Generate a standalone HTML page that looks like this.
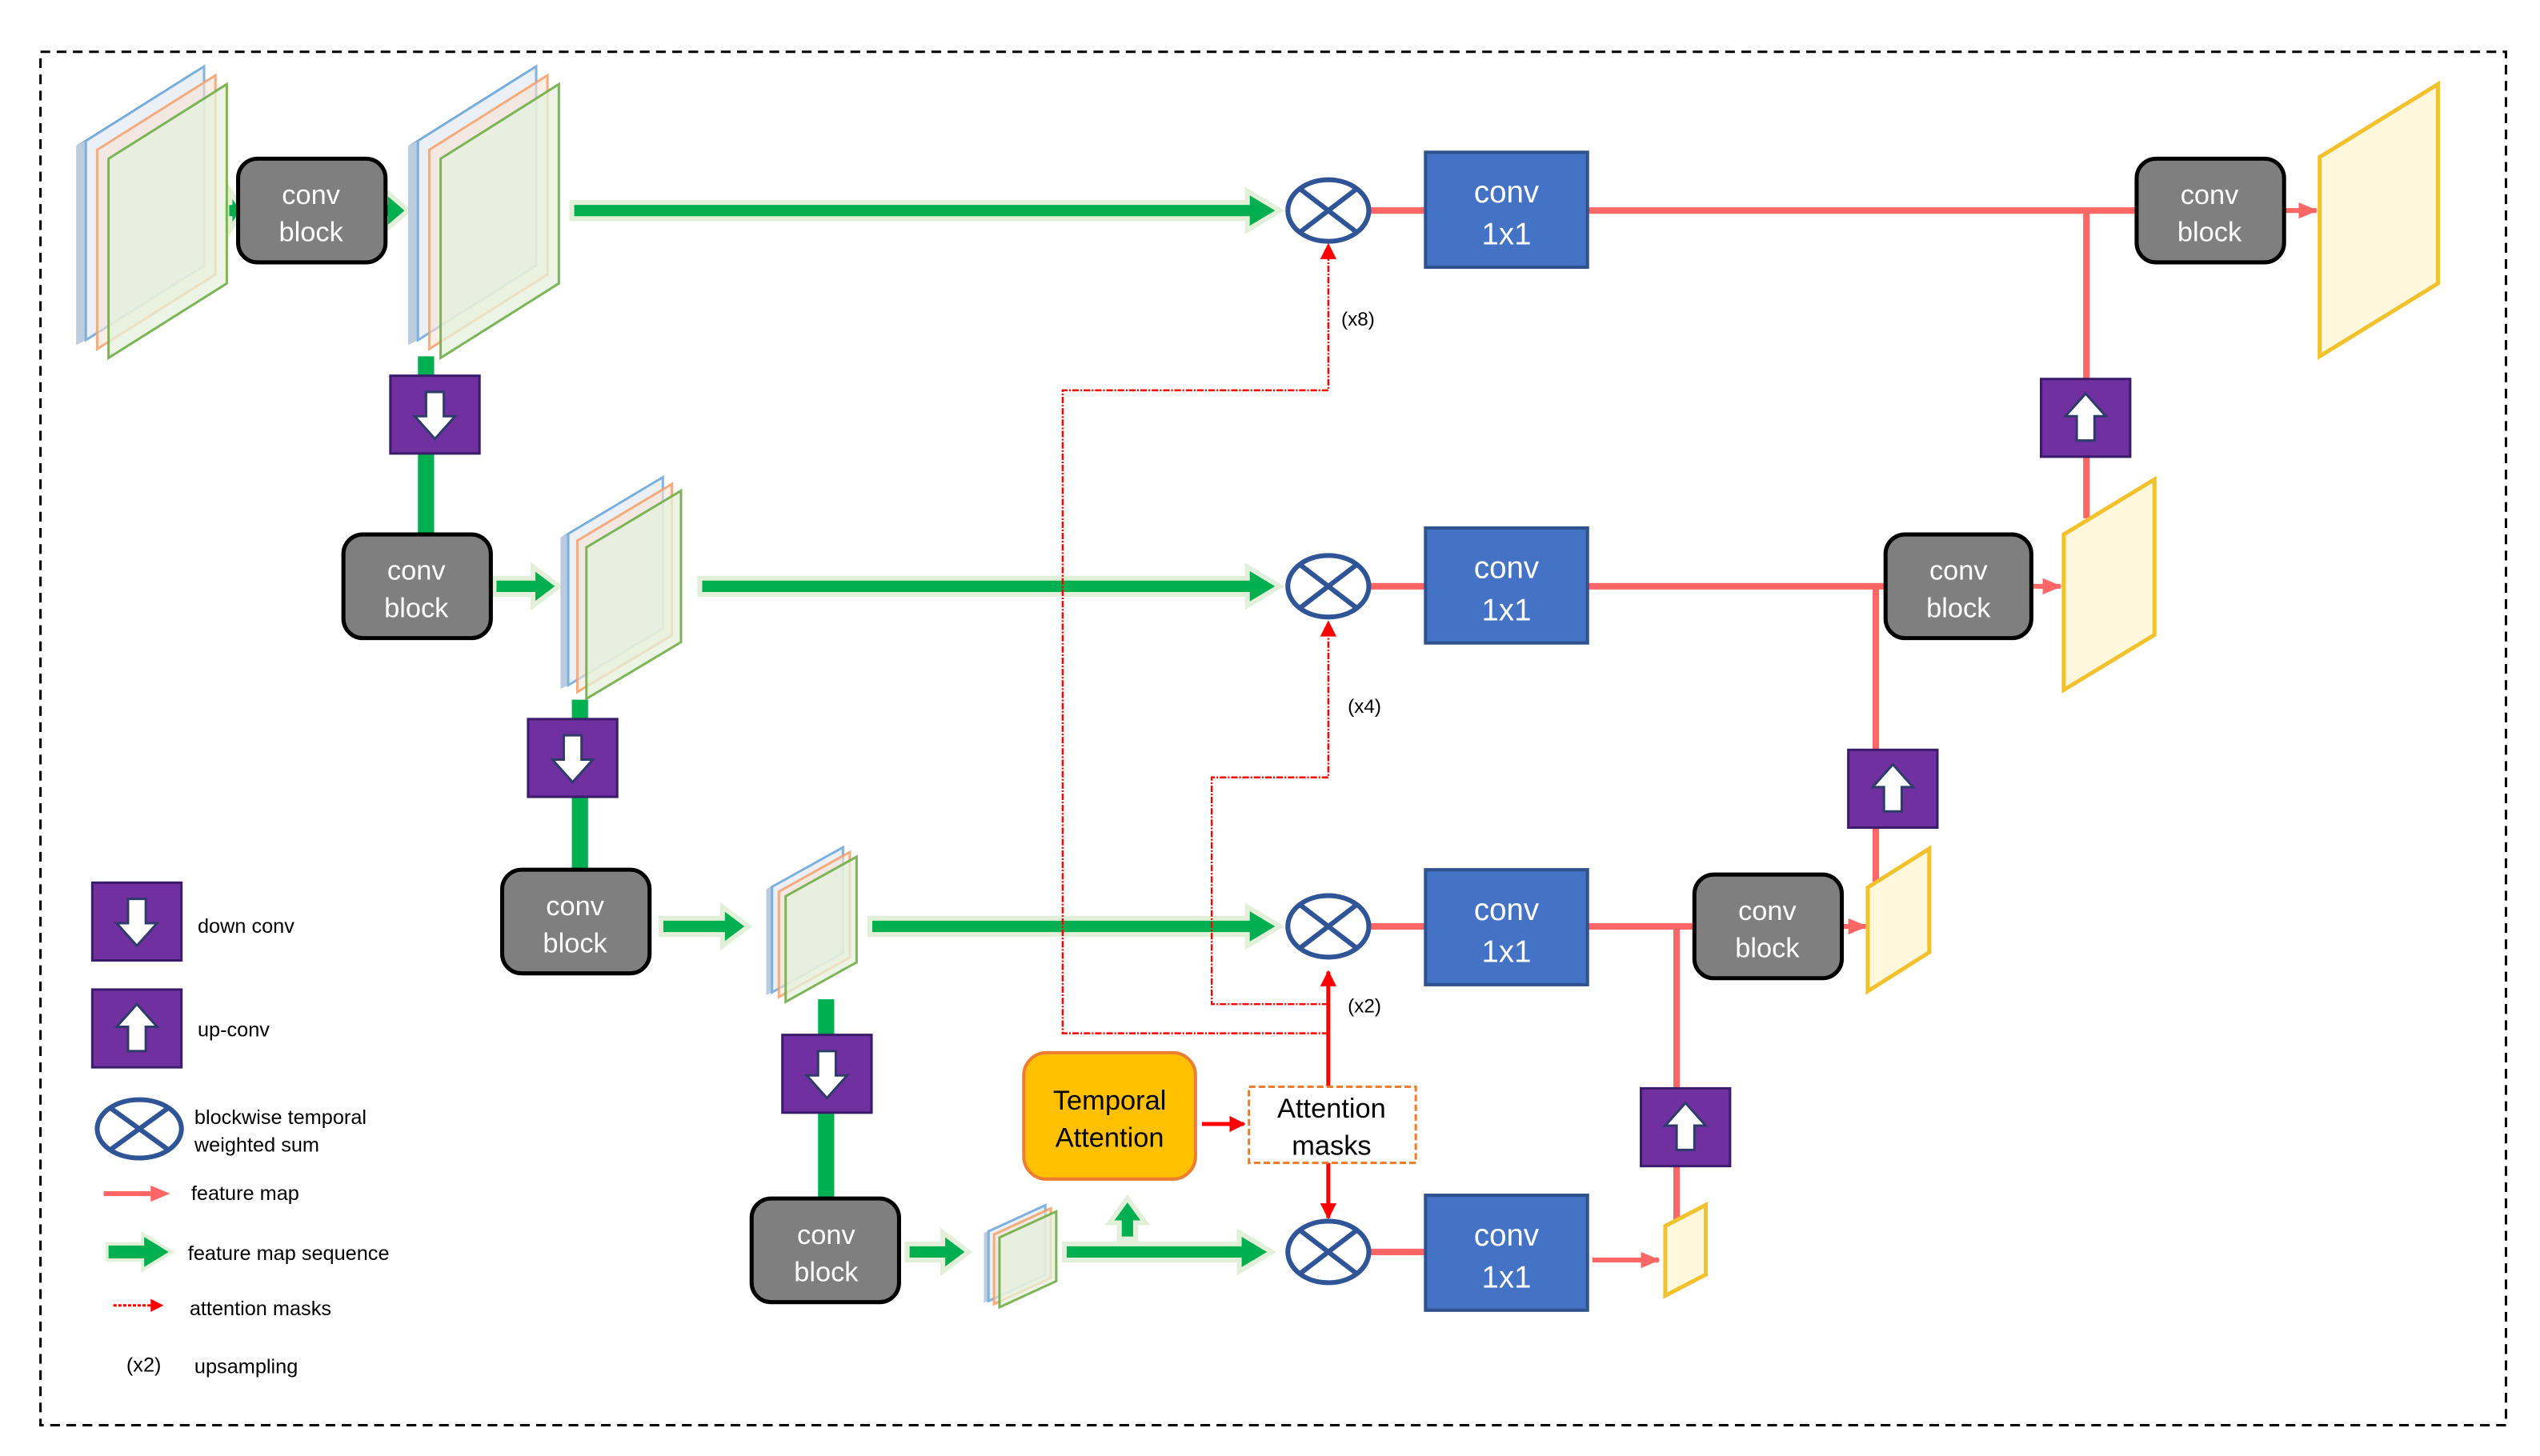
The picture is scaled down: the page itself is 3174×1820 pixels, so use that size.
<!DOCTYPE html>
<html><head><meta charset="utf-8"><style>
html,body{margin:0;padding:0;background:#fff;}
svg{display:block;}
text{font-family:"Liberation Sans",sans-serif;}
</style></head><body>
<svg width="3174" height="1820" viewBox="0 0 1568 899" preserveAspectRatio="none" xmlns="http://www.w3.org/2000/svg">
<defs>
<marker id="rh" markerWidth="12" markerHeight="10" refX="11" refY="5" orient="auto" markerUnits="userSpaceOnUse"><path d="M0,0L12,5L0,10z" fill="#FF6666"/></marker>
<marker id="ah" markerWidth="10" markerHeight="10" refX="9" refY="5" orient="auto" markerUnits="userSpaceOnUse"><path d="M0,0L10,5L0,10z" fill="#FF0000"/></marker>
<g id="dn"><rect x="0" y="0" width="55" height="48" fill="#7030A0" stroke="#3B1C6B" stroke-width="1.5"/><path d="M22,10h11v15h7l-12.5,14l-12.5,-14h7z" fill="#fff" stroke="#2F3B6B" stroke-width="1.5"/></g>
<g id="up"><rect x="0" y="0" width="55" height="48" fill="#7030A0" stroke="#3B1C6B" stroke-width="1.5"/><path d="M22,38h11v-15h7l-12.5,-14l-12.5,14h7z" fill="#fff" stroke="#2F3B6B" stroke-width="1.5"/></g>
<g id="ot"><ellipse cx="0" cy="0" rx="25" ry="19" fill="#fff" stroke="#2F5597" stroke-width="3"/><path d="M-17,-13L17,13M17,-13L-17,13" stroke="#2F5597" stroke-width="3"/></g>
<g id="stk">
<polygon points="-20,38 -14,35 -14,158 -20,161" fill="#B4C7DC" fill-opacity="0.9"/>
<polygon points="-20,38 53,-8 59,-11 -14,35" fill="#5B8DBE" fill-opacity="0.9"/>
<polygon points="-14,35 59,-11 59,112 -14,158" fill="#DCE6F0" fill-opacity="0.6" stroke="#6FA8DC" stroke-opacity="0.85" stroke-width="3" vector-effect="non-scaling-stroke"/>
<polygon points="-7,40.5 66,-5.5 66,117.5 -7,163.5" fill="#F7E3D3" fill-opacity="0.6" stroke="#F4A06A" stroke-opacity="0.85" stroke-width="3" vector-effect="non-scaling-stroke"/>
<polygon points="0,46 73,0 73,123 0,169" fill="#E6F1DC" fill-opacity="0.75" stroke="#70AD47" stroke-opacity="0.9" stroke-width="3" vector-effect="non-scaling-stroke"/>
</g>
</defs>
<rect x="25" y="32" width="1522" height="848" fill="none" stroke="#000" stroke-width="1.5" stroke-dasharray="6,4"/>

<g fill="#00B050">
<rect x="258" y="220" width="10" height="110"/>
<rect x="353" y="432" width="10" height="105"/>
<rect x="505" y="617" width="10" height="123"/>
</g>
<g fill="#00B050" stroke="#E2F0D9" stroke-width="3">
<polygon points="140,125 142,125 142,118 150,130 142,142 142,135 140,135"/>
<polygon points="236,125 238,125 238,118 252,130 238,142 238,135 236,135"/>
<polygon points="353,125 770,125 770,118 790,130 770,142 770,135 353,135"/>
<polygon points="432,357 770,357 770,350 790,362 770,374 770,367 432,367"/>
<polygon points="537,567 770,567 770,560 790,572 770,584 770,577 537,577"/>
<polygon points="657,768 765,768 765,761 785,773 765,785 765,778 657,778"/>
<polygon points="305,357 329,357 329,350 345,362 329,374 329,367 305,367"/>
<polygon points="408,567 446,567 446,560 462,572 446,584 446,577 408,577"/>
<polygon points="560,768 582,768 582,761 598,773 582,785 582,778 560,778"/>
<polygon points="691,765 691,755 685,755 696,740 707,755 701,755 701,765"/>
</g>

<use href="#stk" transform="translate(67,52) scale(1.0,1)"/>
<use href="#stk" transform="translate(272,52) scale(1.0,1)"/>
<use href="#stk" transform="translate(362,303) scale(0.8,0.76)"/>
<use href="#stk" transform="translate(485,529) scale(0.6,0.53)"/>
<use href="#stk" transform="translate(617,748) scale(0.48,0.35)"/>

<g fill="none" stroke="#FF0000" stroke-width="1.2" stroke-dasharray="4,1,1,1">
<path d="M820,638H656V241H820V160"/>
<path d="M820,620H748V480H820V393"/>
</g>
<path d="M815,160L820,150L825,160z" fill="#f00"/>
<path d="M815,393L820,383L825,393z" fill="#f00"/>
<path d="M820,671V600" stroke="#FF0000" stroke-width="2.5" marker-end="url(#ah)"/>
<path d="M820,718V752" stroke="#FF0000" stroke-width="2.5" marker-end="url(#ah)"/>
<path d="M742,694H768" stroke="#FF0000" stroke-width="2.5" marker-end="url(#ah)"/>
<text x="828" y="201" font-family="Liberation Serif" font-size="12">(x8)</text>
<text x="832" y="440" font-family="Liberation Serif" font-size="12">(x4)</text>
<text x="832" y="625" font-family="Liberation Serif" font-size="12">(x2)</text>

<g stroke="#FF6666" stroke-width="4" fill="none">
<path d="M845,130H880M980,130H1319M1288,130V320"/>
<path d="M845,362H880M980,362H1164M1158,362V545"/>
<path d="M845,572H880M980,572H1046M1035,572V760"/>
<path d="M845,773H880"/>
</g>
<g stroke="#FF6666" stroke-width="3" fill="none">
<path d="M1410,130H1430" marker-end="url(#rh)"/>
<path d="M1254,362H1272" marker-end="url(#rh)"/>
<path d="M1137,572H1152" marker-end="url(#rh)"/>
<path d="M983,778H1024" marker-end="url(#rh)"/>
</g>

<use href="#dn" x="241" y="232"/>
<use href="#dn" x="326" y="444"/>
<use href="#dn" x="483" y="639"/>
<use href="#up" x="1260" y="234"/>
<use href="#up" x="1141" y="463"/>
<use href="#up" x="1013" y="672"/>

<use href="#ot" x="820" y="130"/>
<use href="#ot" x="820" y="362"/>
<use href="#ot" x="820" y="572"/>
<use href="#ot" x="820" y="773"/>

<g fill="#4472C4" stroke="#2F528F" stroke-width="2">
<rect x="880" y="94" width="100" height="71"/><rect x="880" y="326" width="100" height="71"/>
<rect x="880" y="537" width="100" height="71"/><rect x="880" y="738" width="100" height="71"/>
</g>
<g fill="#fff" font-size="19" text-anchor="middle">
<text x="930" y="125">conv</text><text x="930" y="151">1x1</text>
<text x="930" y="357">conv</text><text x="930" y="383">1x1</text>
<text x="930" y="568">conv</text><text x="930" y="594">1x1</text>
<text x="930" y="769">conv</text><text x="930" y="795">1x1</text>
</g>

<g fill="#7F7F7F" stroke="#000" stroke-width="2.5">
<rect x="147" y="98" width="91" height="64" rx="12"/><rect x="212" y="330" width="91" height="64" rx="12"/>
<rect x="310" y="537" width="91" height="64" rx="12"/><rect x="464" y="740" width="91" height="64" rx="12"/>
<rect x="1319" y="98" width="91" height="64" rx="12"/><rect x="1164" y="330" width="90" height="64" rx="12"/>
<rect x="1046" y="540" width="91" height="64" rx="12"/>
</g>
<g fill="#fff" font-size="17" text-anchor="middle">
<text x="192" y="126">conv</text><text x="192" y="149">block</text>
<text x="257" y="358">conv</text><text x="257" y="381">block</text>
<text x="355" y="565">conv</text><text x="355" y="588">block</text>
<text x="510" y="768">conv</text><text x="510" y="791">block</text>
<text x="1364" y="126">conv</text><text x="1364" y="149">block</text>
<text x="1209" y="358">conv</text><text x="1209" y="381">block</text>
<text x="1091" y="568">conv</text><text x="1091" y="591">block</text>
</g>

<rect x="632" y="650" width="106" height="78" rx="14" fill="#FFC000" stroke="#ED7D31" stroke-width="2"/>
<text x="685" y="685" font-size="17" text-anchor="middle">Temporal</text>
<text x="685" y="708" font-size="17" text-anchor="middle">Attention</text>
<rect x="771" y="671" width="103" height="47" fill="#fff" stroke="#ED7D31" stroke-width="1.5" stroke-dasharray="4,2"/>
<text x="822" y="690" font-size="17" text-anchor="middle">Attention</text>
<text x="822" y="713" font-size="17" text-anchor="middle">masks</text>

<g fill="#FFF8DC" stroke="#F2C22E" stroke-width="2.5">
<polygon points="1432,97 1505,52 1505,175 1432,220"/>
<polygon points="1274,330 1330,296 1330,392 1274,426"/>
<polygon points="1153,548 1191,524 1191,588 1153,612"/>
<polygon points="1028,757 1053,744 1053,787 1028,800"/>
</g>

<use href="#dn" x="57" y="545"/>
<use href="#up" x="57" y="611"/>
<ellipse cx="86" cy="697" rx="26" ry="18" fill="#fff" stroke="#2F5597" stroke-width="3"/>
<path d="M68,684L104,710M104,684L68,710" stroke="#2F5597" stroke-width="3"/>
<g font-size="12.5">
<text x="122" y="576">down conv</text>
<text x="122" y="640">up-conv</text>
<text x="120" y="694">blockwise temporal</text>
<text x="120" y="711">weighted sum</text>
<text x="118" y="741">feature map</text>
<text x="116" y="778">feature map sequence</text>
<text x="117" y="812">attention masks</text>
<text x="78" y="847" font-family="Liberation Serif">(x2)</text>
<text x="120" y="848">upsampling</text>
</g>
<path d="M64,737H95" stroke="#FF6666" stroke-width="3"/>
<path d="M93,732L105,737L93,742z" fill="#FF6666"/>
<path d="M70,806H94" stroke="#FF0000" stroke-width="1.5" stroke-dasharray="2,1"/>
<path d="M93,802L101,806L93,810z" fill="#f00"/>
<polygon points="66,768 88,768 88,762 106,773 88,784 88,778 66,778" fill="#00B050" stroke="#E2F0D9" stroke-width="2"/>
</svg>
</body></html>
